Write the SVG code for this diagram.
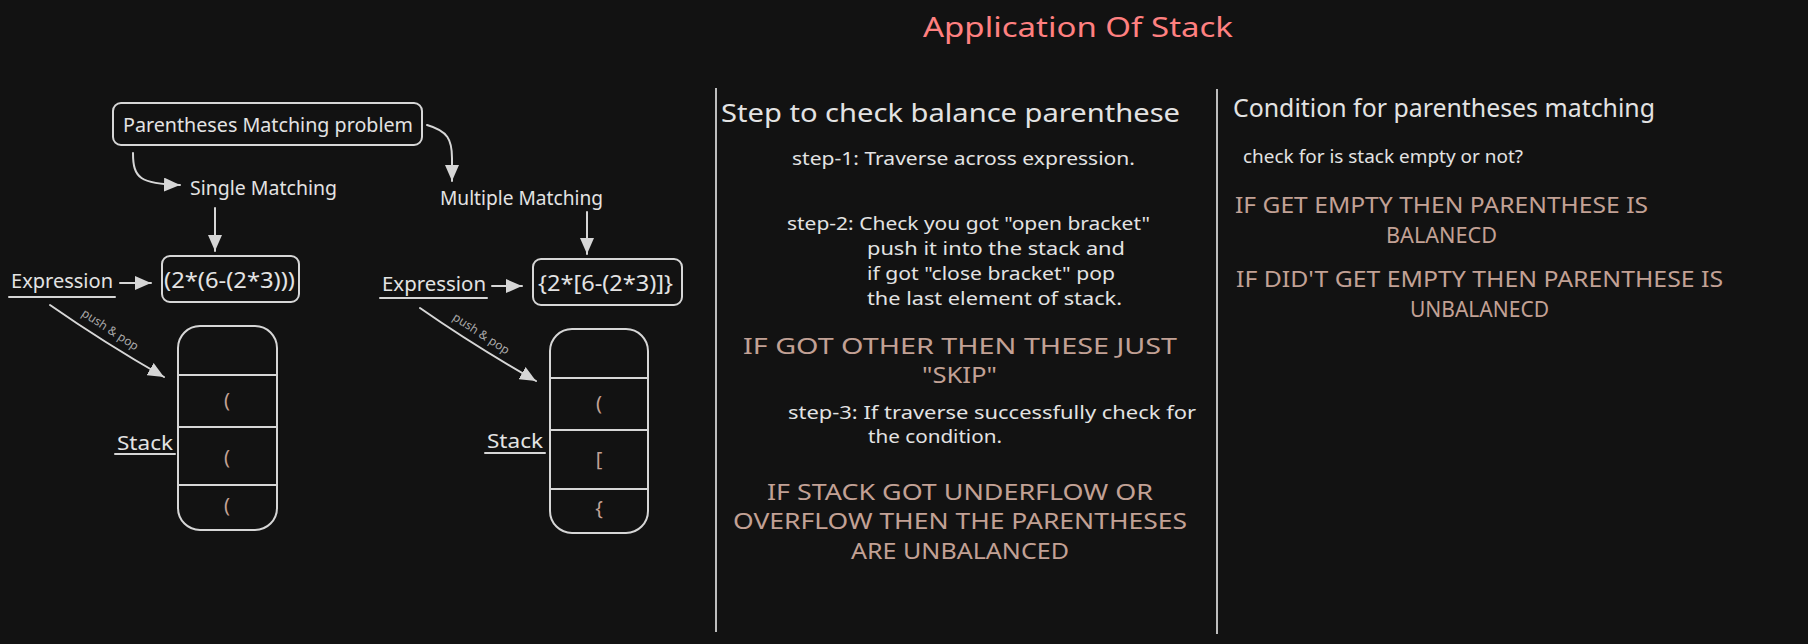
<svg xmlns="http://www.w3.org/2000/svg" width="1808" height="644" viewBox="0 0 1808 644">
<defs>
<style>
.t{font-family:"Noto Sans","DejaVu Sans",sans-serif;fill:#e3e3e3;}
.b{font-family:"Noto Sans","DejaVu Sans",sans-serif;fill:#c2a195;}
.lbl{font-family:"Noto Sans","DejaVu Sans",sans-serif;fill:#a8a8a8;font-size:12px;}
.box{fill:none;stroke:#d6d6d6;stroke-width:2;}
.ln{fill:none;stroke:#d6d6d6;stroke-width:2;stroke-linecap:round;}
.sep{stroke:#bdbdbd;stroke-width:2;}
.ar{fill:none;stroke:#d6d6d6;stroke-width:2;stroke-linecap:round;marker-end:url(#ah);}
</style>
<marker id="ah" markerUnits="userSpaceOnUse" markerWidth="18" markerHeight="14" refX="16" refY="7" orient="auto">
<path d="M0,0 L16,7 L0,14 z" fill="#d6d6d6"/>
</marker>
</defs>
<rect width="1808" height="644" fill="#121212"/>

<text id="title" class="t" x="923" y="37" font-size="28" textLength="310" lengthAdjust="spacingAndGlyphs" style="fill:#ff8080">Application Of Stack</text>

<g id="connectors">
<path class="ar" d="M133,153 C133,178 140,184 180,185"/>
<path class="ar" d="M427,125 C448,131 452,140 452,158 L452,181"/>
<path class="ar" d="M215,208 L215,251"/>
<path class="ar" d="M587,212 L587,254"/>
<path class="ar" d="M120,283 L151,283"/>
<path class="ar" d="M492,286 L522,286"/>
<path class="ar" d="M50,305 Q103,342 164,377"/>
<path class="ar" d="M420,308 Q473,345 536,381"/>
<text class="lbl" transform="translate(108,333) rotate(33)" text-anchor="middle">push &amp; pop</text>
<text class="lbl" transform="translate(479,337) rotate(33)" text-anchor="middle">push &amp; pop</text>
</g>

<g id="problem">
<rect class="box" x="113" y="103" width="309" height="42" rx="8"/>
<text class="t" x="123" y="132" font-size="19" textLength="290" lengthAdjust="spacingAndGlyphs">Parentheses Matching problem</text>
</g>
<g id="single">
<text class="t" x="190" y="195" font-size="19" textLength="147" lengthAdjust="spacingAndGlyphs">Single Matching</text>
</g>
<g id="multiple">
<text class="t" x="440" y="205" font-size="19" textLength="163" lengthAdjust="spacingAndGlyphs">Multiple Matching</text>
</g>
<g id="expr1">
<rect class="box" x="162" y="256" width="137" height="46" rx="8"/>
<text class="t" x="164" y="288" font-size="22" textLength="131" lengthAdjust="spacingAndGlyphs">(2*(6-(2*3)))</text>
</g>
<g id="expr2">
<rect class="box" x="533" y="259" width="149" height="46" rx="8"/>
<text class="t" x="538" y="291" font-size="22" textLength="135" lengthAdjust="spacingAndGlyphs">{2*[6-(2*3)]}</text>
</g>
<g id="exprlabel1">
<text class="t" x="11" y="288" font-size="19" textLength="102" lengthAdjust="spacingAndGlyphs">Expression</text>
<line class="ln" x1="9" y1="297" x2="115" y2="297"/>
</g>
<g id="exprlabel2">
<text class="t" x="382" y="291" font-size="19" textLength="104" lengthAdjust="spacingAndGlyphs">Expression</text>
<line class="ln" x1="380" y1="298" x2="487" y2="298"/>
</g>

<g id="stack1">
<rect class="box" x="178" y="326" width="99" height="204" rx="22"/>
<line class="ln" x1="178" y1="375" x2="277" y2="375"/>
<line class="ln" x1="178" y1="427" x2="277" y2="427"/>
<line class="ln" x1="178" y1="485" x2="277" y2="485"/>
<text class="b" x="227" y="407" font-size="20" text-anchor="middle">(</text>
<text class="b" x="227" y="464" font-size="20" text-anchor="middle">(</text>
<text class="b" x="227" y="512" font-size="20" text-anchor="middle">(</text>
</g>
<g id="stacklabel1">
<text class="t" x="117" y="450" font-size="19" textLength="56" lengthAdjust="spacingAndGlyphs">Stack</text>
<line class="ln" x1="115" y1="454" x2="175" y2="454"/>
</g>
<g id="stack2">
<rect class="box" x="550" y="329" width="98" height="204" rx="22"/>
<line class="ln" x1="550" y1="378" x2="648" y2="378"/>
<line class="ln" x1="550" y1="430" x2="648" y2="430"/>
<line class="ln" x1="550" y1="489" x2="648" y2="489"/>
<text class="b" x="599" y="410" font-size="20" text-anchor="middle">(</text>
<text class="b" x="599" y="466" font-size="20" text-anchor="middle">[</text>
<text class="b" x="599" y="515" font-size="20" text-anchor="middle">{</text>
</g>
<g id="stacklabel2">
<text class="t" x="487" y="448" font-size="19" textLength="56" lengthAdjust="spacingAndGlyphs">Stack</text>
<line class="ln" x1="485" y1="453" x2="545" y2="453"/>
</g>

<g id="separators">
<line class="sep" x1="716" y1="88" x2="716" y2="632"/>
<line class="sep" x1="1217" y1="89" x2="1217" y2="634"/>
</g>

<g id="steps">
<text class="t" x="721" y="122" font-size="26" textLength="459" lengthAdjust="spacingAndGlyphs">Step to check balance parenthese</text>
<text class="t" x="792" y="165" font-size="18" textLength="343" lengthAdjust="spacingAndGlyphs">step-1: Traverse across expression.</text>
<text class="t" x="787" y="230" font-size="18" textLength="363" lengthAdjust="spacingAndGlyphs">step-2: Check you got "open bracket"</text>
<text class="t" x="867" y="255" font-size="18" textLength="258" lengthAdjust="spacingAndGlyphs">push it into the stack and</text>
<text class="t" x="867" y="280" font-size="18" textLength="248" lengthAdjust="spacingAndGlyphs">if got "close bracket" pop</text>
<text class="t" x="867" y="305" font-size="18" textLength="255" lengthAdjust="spacingAndGlyphs">the last element of stack.</text>
<text class="b" x="743" y="354" font-size="21" textLength="434" lengthAdjust="spacingAndGlyphs">IF GOT OTHER THEN THESE JUST</text>
<text class="b" x="922" y="383" font-size="21" textLength="75" lengthAdjust="spacingAndGlyphs">"SKIP"</text>
<text class="t" x="788" y="419" font-size="18" textLength="408" lengthAdjust="spacingAndGlyphs">step-3: If traverse successfully check for</text>
<text class="t" x="868" y="443" font-size="18" textLength="134" lengthAdjust="spacingAndGlyphs">the condition.</text>
<text class="b" x="767" y="500" font-size="21" textLength="386" lengthAdjust="spacingAndGlyphs">IF STACK GOT UNDERFLOW OR</text>
<text class="b" x="733" y="529" font-size="21" textLength="454" lengthAdjust="spacingAndGlyphs">OVERFLOW THEN THE PARENTHESES</text>
<text class="b" x="851" y="559" font-size="21" textLength="218" lengthAdjust="spacingAndGlyphs">ARE UNBALANCED</text>
</g>

<g id="conditions">
<text class="t" x="1233" y="117" font-size="26" textLength="422" lengthAdjust="spacingAndGlyphs">Condition for parentheses matching</text>
<text class="t" x="1243" y="163" font-size="18" textLength="280" lengthAdjust="spacingAndGlyphs">check for is stack empty or not?</text>
<text class="b" x="1235" y="213" font-size="21" textLength="413" lengthAdjust="spacingAndGlyphs">IF GET EMPTY THEN PARENTHESE IS</text>
<text class="b" x="1386" y="243" font-size="21" textLength="111" lengthAdjust="spacingAndGlyphs">BALANECD</text>
<text class="b" x="1236" y="287" font-size="21" textLength="487" lengthAdjust="spacingAndGlyphs">IF DID'T GET EMPTY THEN PARENTHESE IS</text>
<text class="b" x="1410" y="317" font-size="21" textLength="139" lengthAdjust="spacingAndGlyphs">UNBALANECD</text>
</g>
</svg>
